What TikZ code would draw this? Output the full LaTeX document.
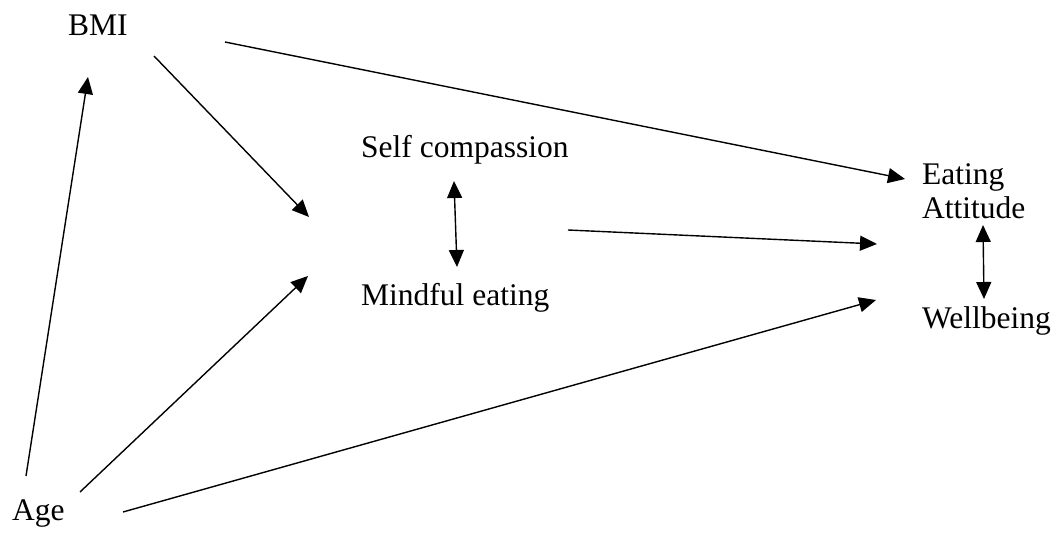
\documentclass[tikz,border=0pt]{standalone}
\usepackage{fontspec}
\setmainfont{Liberation Serif}
\usetikzlibrary{arrows.meta}
\begin{document}
\begin{tikzpicture}[x=1pt,y=-1pt,
  lbl/.style={anchor=base west,inner sep=0pt,font=\fontsize{31.5}{38}\selectfont},
  tip/.style={Triangle[length=17pt,width=15pt]},
  conn/.style={line width=1.4pt,-{Triangle[length=17pt,width=15pt]}},
  biconn/.style={line width=1.4pt,{Triangle[length=17pt,width=15pt]}-{Triangle[length=17pt,width=15pt]}}]
\useasboundingbox (0,0) rectangle (1063,533);
\node[lbl] (bmi) at (68,35) {BMI};
\node[lbl] (self) at (361,157) {Self compassion};
\node[lbl] (mind) at (361,305) {Mindful eating};
\node[lbl] (eat) at (922,184) {Eating};
\node[lbl] (att) at (922,218) {Attitude};
\node[lbl] (well) at (922,328) {Wellbeing};
\node[lbl] (age) at (12,520) {Age};
% connector ends
\coordinate (ageT1) at (26,476);
\coordinate (bmiH) at (88,77);
\coordinate (bmiT1) at (154,56);
\coordinate (medH1) at (309,217);
\coordinate (bmiT2) at (225,42);
\coordinate (eatH) at (905,179);
\coordinate (ageT2) at (80,492);
\coordinate (medH2) at (308,276);
\coordinate (ageT3) at (123,512);
\coordinate (wellH) at (876,300);
\coordinate (medT) at (568,230);
\coordinate (attH) at (877,244);
\coordinate (selfB) at (454,181);
\coordinate (mindT) at (457,267);
\coordinate (attB) at (983,225);
\coordinate (wellT) at (984,299);
\draw[conn] (ageT1) -- (bmiH);
\draw[conn] (bmiT1) -- (medH1);
\draw[conn] (bmiT2) -- (eatH);
\draw[conn] (ageT2) -- (medH2);
\draw[conn] (ageT3) -- (wellH);
\draw[conn] (medT) -- (attH);
\draw[biconn] (selfB) -- (mindT);
\draw[biconn] (attB) -- (wellT);
\end{tikzpicture}
\end{document}
